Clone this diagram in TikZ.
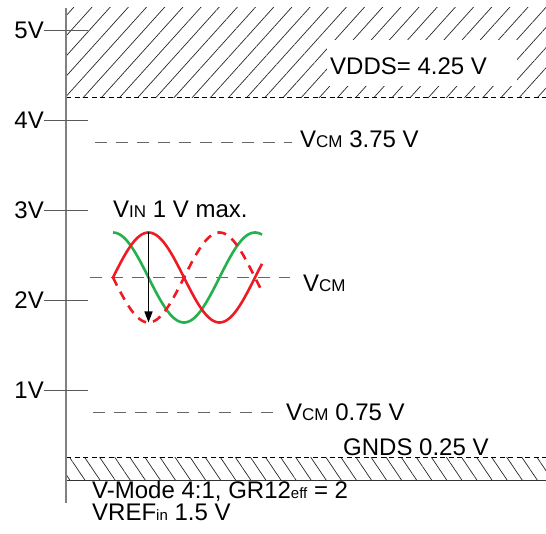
\documentclass[tikz,border=0pt]{standalone}
\usepackage{fontspec}
\setmainfont{Liberation Sans}
\usetikzlibrary{arrows.meta, patterns.meta}

\newcommand{\subtxt}[1]{{\fontsize{17}{17}\selectfont #1}}
\newcommand{\tinytxt}[1]{{\fontsize{15}{15}\selectfont #1}}

\begin{document}
\begin{tikzpicture}[x=1pt, y=1pt,
    every node/.style={font=\fontsize{24}{28}\selectfont, inner sep=0pt},
    axisline/.style={gray, line width=1.2pt},
    tickline/.style={black!65, line width=0.9pt},
    vcmline/.style={black!60, line width=0.8pt, dash pattern=on 12pt off 9pt},
    limitline/.style={black, line width=0.7pt, dash pattern=on 5pt off 3.5pt},
    upperhatch/.style={pattern={Lines[angle=48, distance=13.5pt, line width=0.7pt]}, pattern color=black!85},
    lowerhatch/.style={pattern={Lines[angle=-56, distance=12.5pt, line width=0.7pt]}, pattern color=black!85},
    wave/.style={line width=2.6pt},
    greenwave/.style={wave, draw={rgb,255:red,34;green,177;blue,76}},
    redwave/.style={wave, draw={rgb,255:red,237;green,28;blue,36}}
]

% one volt in pt
\def\vu{90}
\def\vcm{202.5}
\def\amp{45}
\def\per{142}

\useasboundingbox (0,-53) rectangle (546,480);

% VDDS region
\path[upperhatch] (66,{4.25*\vu}) rectangle (546,472);
\fill[white] (327,394) rectangle (517,440);
\draw[limitline] (66,{4.25*\vu}) -- (546,{4.25*\vu});
\node[anchor=base west] (vdds) at (330,405) {VDDS= 4.25 V};

% GNDS region
\path[lowerhatch] (66,0) rectangle (546,{0.25*\vu});
\draw[limitline] (66,{0.25*\vu}) -- (546,{0.25*\vu});
\draw[black!80, line width=0.9pt] (66,0) -- (546,0);
\node[anchor=base west] (gnds) at (343,25) {GNDS 0.25 V};

% Axis and ticks
\draw[axisline] (66,472) -- (66,-23);
\foreach \v in {1,...,5}{
    \draw[tickline] (44,{\v*\vu}) -- (88,{\v*\vu});
    \node[anchor=east] (tick\v) at (44,{\v*\vu}) {\v V};
}

% Common mode levels
\draw[vcmline] (95,{3.75*\vu}) -- (292,{3.75*\vu});
\node[anchor=base west] (vcmhigh) at (300,332) {V\subtxt{CM} 3.75 V};
\draw[vcmline] (90,\vcm) -- (290,\vcm);
\node[anchor=base west] (vcmmid) at (303,188) {V\subtxt{CM}};
\draw[vcmline] (93,{0.75*\vu}) -- (282,{0.75*\vu});
\node[anchor=base west] (vcmlow) at (286,60) {V\subtxt{CM} 0.75 V};

% Input signals
\draw[greenwave] plot[domain=113:262, samples=90] (\x, {\vcm+\amp*cos((\x-113)/\per*360)});
\draw[redwave] plot[domain=113:262, samples=90] (\x, {\vcm+\amp*sin((\x-113)/\per*360)});
\draw[redwave, dash pattern=on 9pt off 7pt] plot[domain=113:262, samples=90] (\x, {\vcm-\amp*sin((\x-113)/\per*360)});

% Peak to peak
\coordinate (pk) at (148.5,{\vcm+\amp});
\coordinate (tr) at (148.5,{\vcm-\amp});
\draw[black, line width=1.4pt, -{Triangle[length=11pt, width=8pt]}] (pk) -- (tr);
\node[anchor=base west] (vin) at (113,262) {V\subtxt{IN} 1 V max.};

% Mode notes
\node[anchor=base west] (mode) at (92,-18) {V-Mode 4:1, GR12\tinytxt{eff} = 2};
\node[anchor=base west] (vref) at (92,-40) {VREF\tinytxt{in} 1.5 V};

\end{tikzpicture}
\end{document}
